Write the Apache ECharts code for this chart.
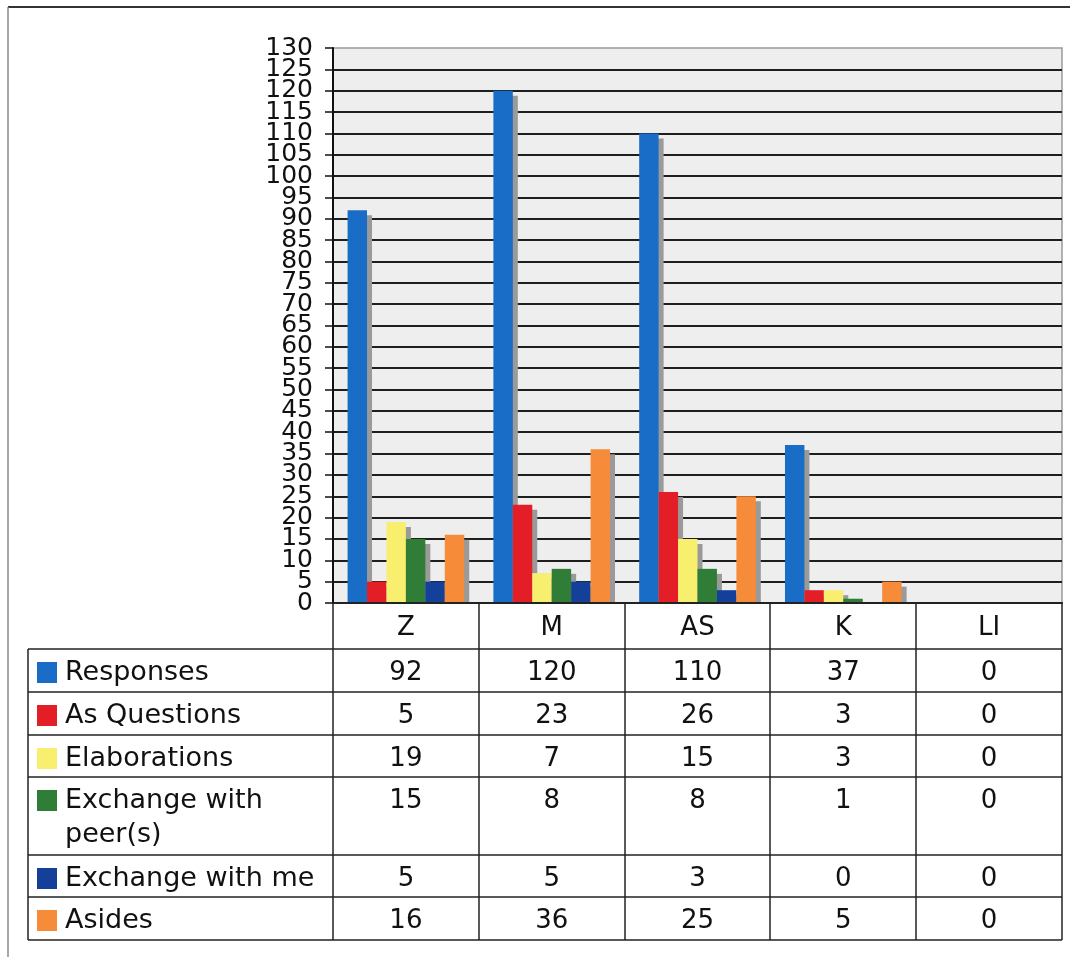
<!DOCTYPE html>
<html>
<head>
<meta charset="utf-8">
<title>Responses by group</title>
<script src="https://cdn.jsdelivr.net/npm/echarts@6/dist/echarts.min.js"></script>
<style>
  html, body { margin: 0; padding: 0; background: #ffffff; }
  #chart { width: 1070px; height: 957px; }
</style>
</head>
<body>
<div id="chart"></div>
<script>
// Groups along the x axis
const categories = ['Z', 'M', 'AS', 'K', 'LI'];

// Series names as shown in the data table
const seriesNames = ['Responses', 'As Questions', 'Elaborations', 'Exchange with peer(s)', 'Exchange with me', 'Asides'];

// Counts per group
const responses     = [92, 120, 110, 37, 0];
const asQuestions   = [5, 23, 26, 3, 0];
const elaborations  = [19, 7, 15, 3, 0];
const exchangePeers = [15, 8, 8, 1, 0];
const exchangeMe    = [5, 5, 3, 0, 0];
const asides        = [16, 36, 25, 5, 0];

// Value axis tick labels
const yTicks = [0, 5, 10, 15, 20, 25, 30, 35, 40, 45, 50, 55, 60, 65, 70, 75, 80, 85, 90, 95, 100, 105, 110, 115, 120, 125, 130];

const seriesValues = [responses, asQuestions, elaborations, exchangePeers, exchangeMe, asides];
const seriesColors = ['#1a6dc6', '#e41e26', '#f9ef6e', '#2f7d37', '#14409a', '#f68b3a'];

// Value axis range
const yMin = 0, yMax = 130, yStep = 5;

// Layout
const W = 1070, H = 957;
const plotLeft = 333, plotRight = 1062, plotTop = 48, plotBottom = 603;
const tableLeft = 28;
const headerBottom = 649;
const rowHeights = [43, 43, 42, 78, 42, 43];
const colW = (plotRight - plotLeft) / categories.length;
const FONT = '"DejaVu Sans", Verdana, sans-serif';
const LINE = '#222222';

const chart = echarts.init(document.getElementById('chart'), null, { renderer: 'canvas' });

const series = seriesNames.map((name, i) => ({
  name: name,
  type: 'bar',
  data: seriesValues[i],
  barGap: '0%',
  barCategoryGap: '20%',
  itemStyle: {
    color: seriesColors[i],
    shadowColor: '#9a9a9a',
    shadowBlur: 0,
    shadowOffsetX: 5,
    shadowOffsetY: 5
  },
  emphasis: { disabled: true },
  animation: false
}));

// Data table under the plot
const graphics = [];

// outer frame
graphics.push({ type: 'line', z: 100, shape: { x1: 8, y1: 7, x2: W, y2: 7 }, style: { stroke: '#333', lineWidth: 2 } });
graphics.push({ type: 'line', z: 100, shape: { x1: 8, y1: 7, x2: 8, y2: H }, style: { stroke: '#8a8a8a', lineWidth: 1.5 } });

// header row background keeps bar shadows above the axis
graphics.push({ type: 'rect', z: 100, shape: { x: plotLeft, y: plotBottom + 1, width: plotRight - plotLeft, height: headerBottom - plotBottom - 1 }, style: { fill: '#ffffff' } });

const rowTops = [];
let y = headerBottom;
rowHeights.forEach(h => { rowTops.push(y); y += h; });
const tableBottom = y;

// horizontal rules
graphics.push({ type: 'line', z: 101, shape: { x1: plotLeft, y1: plotBottom, x2: plotRight, y2: plotBottom }, style: { stroke: LINE, lineWidth: 2 } });
graphics.push({ type: 'line', z: 101, shape: { x1: tableLeft, y1: headerBottom, x2: plotRight, y2: headerBottom }, style: { stroke: LINE, lineWidth: 1.5 } });
rowTops.forEach((t, i) => {
  const b = t + rowHeights[i];
  graphics.push({ type: 'line', z: 101, shape: { x1: tableLeft, y1: b, x2: plotRight, y2: b }, style: { stroke: LINE, lineWidth: 1.5 } });
});

// vertical rules
graphics.push({ type: 'line', z: 101, shape: { x1: tableLeft, y1: headerBottom, x2: tableLeft, y2: tableBottom }, style: { stroke: LINE, lineWidth: 1.5 } });
for (let c = 0; c <= categories.length; c++) {
  const x = Math.round(plotLeft + c * colW);
  graphics.push({ type: 'line', z: 101, shape: { x1: x, y1: plotBottom, x2: x, y2: tableBottom }, style: { stroke: LINE, lineWidth: 1.5 } });
}

// header labels
categories.forEach((cat, c) => {
  graphics.push({
    type: 'text', z: 102,
    style: {
      text: cat, x: plotLeft + (c + 0.5) * colW, y: plotBottom + 25,
      align: 'center', verticalAlign: 'middle',
      font: '26px ' + FONT, fill: '#111'
    }
  });
});

// row keys, names and values
seriesNames.forEach((name, i) => {
  const t = rowTops[i];
  graphics.push({ type: 'rect', z: 102, shape: { x: 37, y: t + 13, width: 20, height: 21 }, style: { fill: seriesColors[i] } });
  graphics.push({
    type: 'text', z: 102,
    style: {
      text: name, x: 65, y: t + 7, width: 262, overflow: 'break',
      align: 'left', verticalAlign: 'top', lineHeight: 34,
      font: '27px ' + FONT, fill: '#111'
    }
  });
  seriesValues[i].forEach((v, c) => {
    graphics.push({
      type: 'text', z: 102,
      style: {
        text: String(v), x: plotLeft + (c + 0.5) * colW, y: t + 7,
        align: 'center', verticalAlign: 'top', lineHeight: 34,
        font: '26px ' + FONT, fill: '#111'
      }
    });
  });
});

const option = {
  animation: false,
  backgroundColor: '#ffffff',
  grid: {
    left: plotLeft, right: W - plotRight, top: plotTop, bottom: H - plotBottom,
    show: true, backgroundColor: '#eeeeee', borderColor: '#9a9a9a', borderWidth: 1.5,
    containLabel: false
  },
  xAxis: {
    type: 'category',
    data: categories,
    axisLine: { show: true, lineStyle: { color: '#111', width: 2 } },
    axisTick: { show: false },
    axisLabel: { show: false },
    splitLine: { show: false }
  },
  yAxis: {
    type: 'value',
    min: yMin, max: yMax, interval: yStep,
    axisLine: { show: true, lineStyle: { color: '#111', width: 2 } },
    axisTick: { show: true, length: 8, lineStyle: { color: '#111', width: 1.5 } },
    axisLabel: { show: false },
    splitLine: { show: true, showMaxLine: false, lineStyle: { color: '#1e1e1e', width: 2 } }
  },
  series: series,
  graphic: graphics
};

chart.setOption(option);

// Value axis labels, tightly stacked, placed with the axis scale
const tickLabels = yTicks.map(v => ({
  type: 'text', z: 102,
  style: {
    text: String(v),
    x: plotLeft - 20,
    y: chart.convertToPixel({ yAxisIndex: 0 }, v),
    align: 'right', verticalAlign: 'middle',
    font: '25px ' + FONT, fill: '#111'
  }
}));
chart.setOption({ graphic: graphics.concat(tickLabels) });
</script>
</body>
</html>
